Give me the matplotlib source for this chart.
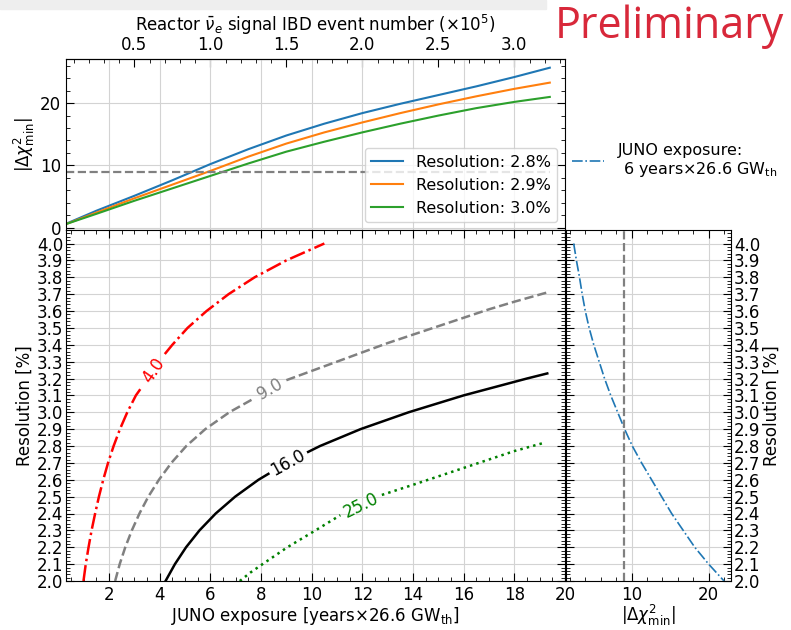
import numpy as np
import matplotlib
matplotlib.use("Agg")
import matplotlib.pyplot as plt
from matplotlib.ticker import MultipleLocator
from matplotlib.patches import Rectangle

# ---------------- data ----------------
# top panel: |dchi2_min| vs exposure (years x 26.6 GW_th)
exposure = [0.3, 1.5, 3.0, 4.5, 6.0, 7.5, 9.0, 10.5, 12.0, 13.5, 15.0, 16.5, 18.0, 19.4]
chi2_res28 = [0.6, 2.7, 5.1, 7.6, 10.2, 12.6, 14.8, 16.7, 18.4, 19.9, 21.3, 22.7, 24.2, 25.7]
chi2_res29 = [0.55, 2.4, 4.7, 6.9, 9.1, 11.4, 13.5, 15.3, 16.9, 18.4, 19.8, 21.1, 22.3, 23.3]
chi2_res30 = [0.55, 2.2, 4.3, 6.3, 8.3, 10.3, 12.2, 13.8, 15.3, 16.7, 18.0, 19.2, 20.2, 21.0]
legend_labels = ["Resolution: 2.8%", "Resolution: 2.9%", "Resolution: 3.0%"]
chi2_threshold = 9.0
years_per_1e5_events = 6.0

# right panel: |dchi2_min| vs resolution at JUNO exposure (6 years)
res_axis = [4.0, 3.9, 3.8, 3.7, 3.6, 3.5, 3.4, 3.3, 3.2, 3.1, 3.0,
            2.9, 2.8, 2.7, 2.6, 2.5, 2.4, 2.3, 2.2, 2.1, 2.0]
chi2_juno = [2.5, 2.85, 3.25, 3.6, 4.0, 4.5, 5.1, 5.8, 6.5, 7.3, 8.2,
             9.1, 10.1, 11.3, 12.6, 13.9, 15.2, 16.7, 18.2, 20.0, 22.0]

# main panel: iso-|dchi2| contour lines (exposure, resolution), split at the inline label
c4_lo_x = [0.99, 1.08, 1.19, 1.31, 1.45, 1.60, 1.77, 1.96, 2.18, 2.43, 2.72, 3.06, 3.32]
c4_lo_y = [2.00, 2.10, 2.20, 2.30, 2.40, 2.50, 2.60, 2.70, 2.80, 2.90, 3.00, 3.10, 3.155]
c4_hi_x = [4.20, 4.50, 5.10, 5.85, 6.72, 7.75, 9.00, 10.50]
c4_hi_y = [3.345, 3.40, 3.50, 3.60, 3.70, 3.80, 3.90, 4.00]

c9_lo_x = [2.24, 2.42, 2.64, 2.90, 3.20, 3.55, 3.97, 4.46, 5.05, 5.80, 6.75, 7.70]
c9_lo_y = [2.00, 2.10, 2.20, 2.30, 2.40, 2.50, 2.60, 2.70, 2.80, 2.90, 3.00, 3.08]
c9_hi_x = [9.00, 10.0, 11.0, 12.0, 13.0, 14.0, 15.0, 16.0, 17.0, 18.0, 19.3]
c9_hi_y = [3.19, 3.245, 3.30, 3.355, 3.41, 3.46, 3.51, 3.56, 3.61, 3.655, 3.71]

c16_lo_x = [4.23, 4.60, 5.04, 5.57, 6.21, 6.98, 7.90, 8.29]
c16_lo_y = [2.00, 2.10, 2.20, 2.30, 2.40, 2.50, 2.60, 2.635]
c16_hi_x = [9.86, 10.33, 11.93, 13.83, 16.0, 18.5, 19.3]
c16_hi_y = [2.765, 2.80, 2.90, 3.00, 3.10, 3.20, 3.23]

c25_lo_x = [7.16, 7.58, 8.06, 9.04, 10.15, 11.13]
c25_lo_y = [2.00, 2.05, 2.10, 2.20, 2.30, 2.39]
c25_hi_x = [12.77, 14.0, 15.0, 16.0, 17.0, 18.0, 19.2]
c25_hi_y = [2.51, 2.57, 2.62, 2.67, 2.72, 2.77, 2.82]

levels = ["4.0", "9.0", "16.0", "25.0"]

# ---------------- figure ----------------
W, H = 791, 630
fig = plt.figure(figsize=(W / 100, H / 100), dpi=100)
plt.rcParams["font.family"] = ["DejaVu Sans"]
FS = 12


def fx(px):
    return px / W


def fy(py):
    return 1 - py / H


L, R, Rr = 66, 565, 731
T_top, B_top, B_main = 59, 230, 581
ax_top = fig.add_axes([fx(L), fy(B_top), fx(R) - fx(L), fy(T_top) - fy(B_top)])
ax = fig.add_axes([fx(L), fy(B_main), fx(R) - fx(L), fy(B_top) - fy(B_main)])
ax_r = fig.add_axes([fx(R + 1), fy(B_main), fx(Rr) - fx(R + 1), fy(B_top) - fy(B_main)])

grid_kw = dict(color="#d3d3d3", lw=0.8)
tick_kw = dict(direction="in", labelsize=FS, length=6, width=0.8)
mtick_kw = dict(direction="in", length=3, width=0.6)

# light strip at the top (slide artifact)
fig.patches.append(Rectangle((0, fy(9)), 0.69, 1 - fy(9), transform=fig.transFigure,
                             color="#eeeeee", zorder=0))

# ---- top panel ----
cols = ["#1f77b4", "#ff7f0e", "#2ca02c"]
for yv, c, lab in zip([chi2_res28, chi2_res29, chi2_res30], cols, legend_labels):
    ax_top.plot(exposure, yv, color=c, lw=1.5, label=lab)
ax_top.hlines(chi2_threshold, exposure[0], exposure[-1], colors="gray",
              linestyles="--", lw=1.6)
ax_top.set_xlim(0.3, 20.0)
ax_top.set_ylim(-0.4, 27.1)
ax_top.xaxis.set_major_locator(MultipleLocator(2))
ax_top.xaxis.set_minor_locator(MultipleLocator(0.5))
ax_top.yaxis.set_major_locator(MultipleLocator(10))
ax_top.yaxis.set_minor_locator(MultipleLocator(2))
ax_top.grid(True, which="major", **grid_kw)
ax_top.tick_params(axis="both", which="major", left=True, right=True, bottom=False, top=False,
                   labelbottom=False, **tick_kw)
ax_top.tick_params(axis="both", which="minor", left=True, right=True, bottom=False, top=False,
                   **mtick_kw)
ax_top.set_ylabel(r"$|\Delta\chi^2_{\rm min}|$", fontsize=FS, labelpad=2)
ax_top.legend(loc="lower right", fontsize=11.5, framealpha=0.8, handlelength=2.0,
              borderaxespad=0.5)

sec = ax_top.secondary_xaxis("top", functions=(lambda x: np.asarray(x) / years_per_1e5_events,
                                               lambda e: np.asarray(e) * years_per_1e5_events))
sec.xaxis.set_major_locator(MultipleLocator(0.5))
sec.xaxis.set_minor_locator(MultipleLocator(0.1))
sec.tick_params(axis="x", which="major", **tick_kw)
sec.tick_params(axis="x", which="minor", **mtick_kw)
sec.set_xlabel(r"Reactor $\bar{\nu}_e$ signal IBD event number ($\times10^5$)",
               fontsize=FS, labelpad=4)

# ---- main panel ----
segments = [
    (c4_lo_x, c4_lo_y, c4_hi_x, c4_hi_y, "red", "-."),
    (c9_lo_x, c9_lo_y, c9_hi_x, c9_hi_y, "gray", "--"),
    (c16_lo_x, c16_lo_y, c16_hi_x, c16_hi_y, "black", "-"),
    (c25_lo_x, c25_lo_y, c25_hi_x, c25_hi_y, "green", ":"),
]
ax.set_xlim(0.3, 20.0)
ax.set_ylim(2.0, 4.08)
for (lx, ly, hx, hy, c, ls), lev in zip(segments, levels):
    ax.plot(lx, ly, color=c, ls=ls, lw=1.8)
    ax.plot(hx, hy, color=c, ls=ls, lw=1.8)
    p0 = ax.transData.transform((lx[-1], ly[-1]))
    p1 = ax.transData.transform((hx[0], hy[0]))
    ang = np.degrees(np.arctan2(p1[1] - p0[1], p1[0] - p0[0]))
    mid = ax.transData.inverted().transform((p0 + p1) / 2)
    ax.text(mid[0], mid[1], lev, color=c, fontsize=FS, rotation=ang,
            ha="center", va="center", rotation_mode="anchor")

ax.xaxis.set_major_locator(MultipleLocator(2))
ax.xaxis.set_minor_locator(MultipleLocator(0.5))
ax.yaxis.set_minor_locator(MultipleLocator(0.02))
ax.set_yticks(np.round(np.arange(2.0, 4.01, 0.1), 1))
ax.grid(True, which="major", **grid_kw)
ax.tick_params(axis="both", which="major", left=True, right=True, bottom=True, top=True, **tick_kw)
ax.tick_params(axis="both", which="minor", left=True, right=True, bottom=True, top=True, **mtick_kw)
ax.tick_params(axis="y", pad=2)
ax.set_xlabel(r"JUNO exposure [years$\times$26.6 GW$_{\rm th}$]", fontsize=FS, labelpad=1)
ax.set_ylabel("Resolution [%]", fontsize=FS, labelpad=2)

# ---- right panel ----
line_juno, = ax_r.plot(chi2_juno, res_axis, color="#1f77b4", ls="-.", lw=1.2)
ax_r.axvline(chi2_threshold, color="gray", ls="--", lw=1.6)
ax_r.set_xlim(1.5, 22.9)
ax_r.set_ylim(2.0, 4.08)
ax_r.xaxis.set_major_locator(MultipleLocator(10))
ax_r.xaxis.set_minor_locator(MultipleLocator(2))
ax_r.yaxis.set_minor_locator(MultipleLocator(0.02))
ax_r.set_yticks(np.round(np.arange(2.0, 4.01, 0.1), 1))
ax_r.grid(True, which="major", **grid_kw)
ax_r.tick_params(axis="both", which="major", left=True, right=True, bottom=True, top=True,
                 labelleft=False, labelright=True, **tick_kw)
ax_r.tick_params(axis="both", which="minor", left=True, right=True, bottom=True, top=True,
                 **mtick_kw)
ax_r.tick_params(axis="y", pad=2)
ax_r.yaxis.set_label_position("right")
ax_r.set_ylabel("Resolution [%]", fontsize=FS, labelpad=2)
ax_r.set_xlabel(r"$|\Delta\chi^2_{\rm min}|$", fontsize=FS, labelpad=-1)

fig.legend([line_juno], ["JUNO exposure:\n 6 years$\\times$26.6 GW$_{\\rm th}$"],
           loc="center left", bbox_to_anchor=(fx(566), fy(161)), frameon=False,
           fontsize=11.5, handlelength=1.95, handletextpad=0.9, borderaxespad=0)

fig.text(fx(784), fy(27), "Preliminary", color="#d8283a", fontsize=31,
         family=["Open Sans", "DejaVu Sans"], ha="right", va="center")

fig.savefig("out.png", dpi=100)
